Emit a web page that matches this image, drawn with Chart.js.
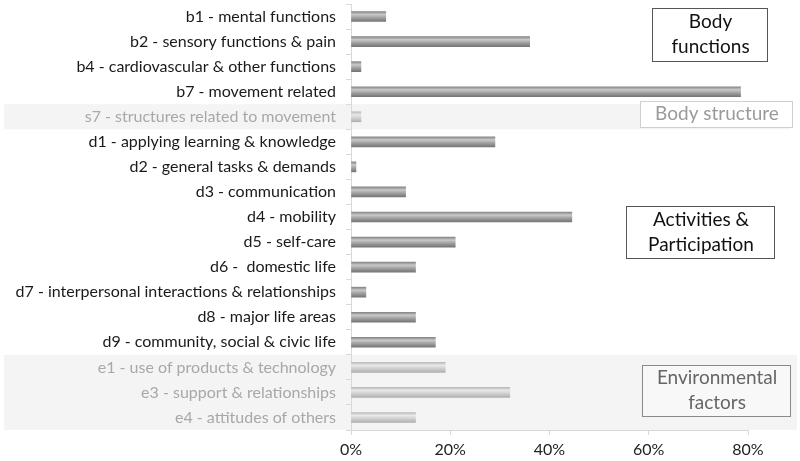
<!DOCTYPE html>
<html lang="en">
<head>
    <meta charset="UTF-8">
    <title>ICF categories</title>
    <script src="https://cdn.jsdelivr.net/npm/chart.js@4"></script>
    <style>
        html, body { margin: 0; padding: 0; background: #fff; }
        #wrap { width: 800px; height: 461px; position: relative; }
    </style>
</head>
<body>
    <div id="wrap"><canvas id="myChart" width="800" height="461"></canvas></div>
    <script>
        // categories (top to bottom) and share of studies, in %
        const categories = [
            'b1 - mental functions',
            'b2 - sensory functions & pain',
            'b4 - cardiovascular & other functions',
            'b7 - movement related',
            's7 - structures related to movement',
            'd1 - applying learning & knowledge',
            'd2 - general tasks & demands',
            'd3 - communication',
            'd4 - mobility',
            'd5 - self-care',
            'd6 -  domestic life',
            'd7 - interpersonal interactions & relationships',
            'd8 - major life areas',
            'd9 - community, social & civic life',
            'e1 - use of products & technology',
            'e3 - support & relationships',
            'e4 - attitudes of others'
        ];
        const values = [7, 36, 2, 78.5, 2, 29, 1, 11, 44.5, 21, 13, 3, 13, 17, 19, 32, 13];
        const xTicks = [0, 20, 40, 60, 80];

        // rows that are greyed out (body structure + environmental factors)
        const faded = [4, 14, 15, 16];

        const FONT = 'Lato, "Open Sans", sans-serif';
        const ctx = document.getElementById('myChart').getContext('2d');

        function barFill(c) {
            const chart = c.chart;
            const ys = chart.scales.y;
            if (!ys || ys.top === undefined) return '#999';
            const y = ys.getPixelForValue(c.dataIndex);
            const g = chart.ctx.createLinearGradient(0, y - 5, 0, y + 5);
            if (faded.includes(c.dataIndex)) {
                g.addColorStop(0, '#bcbcbc');
                g.addColorStop(0.3, '#e8e8e8');
                g.addColorStop(0.65, '#cdcdcd');
                g.addColorStop(1, '#b0b0b0');
            } else {
                g.addColorStop(0, '#858585');
                g.addColorStop(0.3, '#c9c9c9');
                g.addColorStop(0.65, '#9c9c9c');
                g.addColorStop(1, '#767676');
            }
            return g;
        }

        // grey bands behind faded rows + the four group boxes
        const groups = {
            id: 'groups',
            beforeDraw(chart) {
                const c = chart.ctx;
                const ys = chart.scales.y;
                const half = (ys.getPixelForValue(1) - ys.getPixelForValue(0)) / 2;
                c.save();
                c.fillStyle = '#f4f4f4';
                let t = ys.getPixelForValue(4) - half;
                c.fillRect(4, t, 786, half * 2);
                t = ys.getPixelForValue(14) - half;
                c.fillRect(4, t, 793, ys.getPixelForValue(16) + half - t);
                c.restore();
            },
            afterDraw(chart) {
                const c = chart.ctx;
                const boxes = [
                    { x: 652, y: 8, w: 115, h: 53, lines: ['Body', 'functions'], color: '#111', border: '#555', fill: '#fff' },
                    { x: 640, y: 101, w: 152, h: 26, lines: ['Body structure'], color: '#9a9a9a', border: '#cfcfcf', fill: '#fff' },
                    { x: 626, y: 206, w: 148, h: 52, lines: ['Activities &', 'Participation'], color: '#111', border: '#555', fill: '#fff' },
                    { x: 642, y: 365, w: 148, h: 51, lines: ['Environmental', 'factors'], color: '#666', border: '#8a8a8a', fill: '#f8f8f8' }
                ];
                c.save();
                c.font = '19px ' + FONT;
                c.textAlign = 'center';
                c.textBaseline = 'middle';
                boxes.forEach(b => {
                    c.fillStyle = b.fill;
                    c.fillRect(b.x, b.y, b.w, b.h);
                    c.strokeStyle = b.border;
                    c.lineWidth = 1;
                    c.strokeRect(b.x + 0.5, b.y + 0.5, b.w, b.h);
                    c.fillStyle = b.color;
                    const step = 25;
                    const y0 = b.y + b.h / 2 - (b.lines.length - 1) * step / 2;
                    b.lines.forEach((l, i) => c.fillText(l, b.x + b.w / 2 + 1, y0 + i * step));
                });
                c.restore();
            }
        };

        new Chart(ctx, {
            type: 'bar',
            data: {
                labels: categories,
                datasets: [{
                    data: values,
                    backgroundColor: barFill,
                    borderWidth: 0,
                    barThickness: 10
                }]
            },
            options: {
                indexAxis: 'y',
                responsive: false,
                animation: false,
                layout: { padding: { top: 4, right: 52, left: 0, bottom: 0 } },
                plugins: { legend: { display: false }, tooltip: { enabled: false } },
                scales: {
                    x: {
                        min: 0,
                        max: 80,
                        afterBuildTicks: s => { s.ticks = xTicks.map(v => ({ value: v })); },
                        ticks: {
                            callback: v => v + '%',
                            color: '#222',
                            font: { family: FONT, size: 16 },
                            padding: 5
                        },
                        grid: { drawOnChartArea: false, tickLength: 5, color: '#d9d9d9' },
                        border: { color: '#d9d9d9' },
                        afterFit: s => { s.height = 31; s.paddingLeft = 0; s.paddingRight = 0; }
                    },
                    y: {
                        ticks: {
                            autoSkip: false,
                            color: c => faded.includes(c.index) ? '#a8a8a8' : '#1a1a1a',
                            font: { family: FONT, size: 16 },
                            padding: 10
                        },
                        grid: { drawOnChartArea: false, tickLength: 5, color: '#d9d9d9', offset: true },
                        border: { color: '#d9d9d9' },
                        afterFit: s => { s.width = 351; s.paddingTop = 0; s.paddingBottom = 0; }
                    }
                }
            },
            plugins: [groups]
        });
    </script>
</body>
</html>
